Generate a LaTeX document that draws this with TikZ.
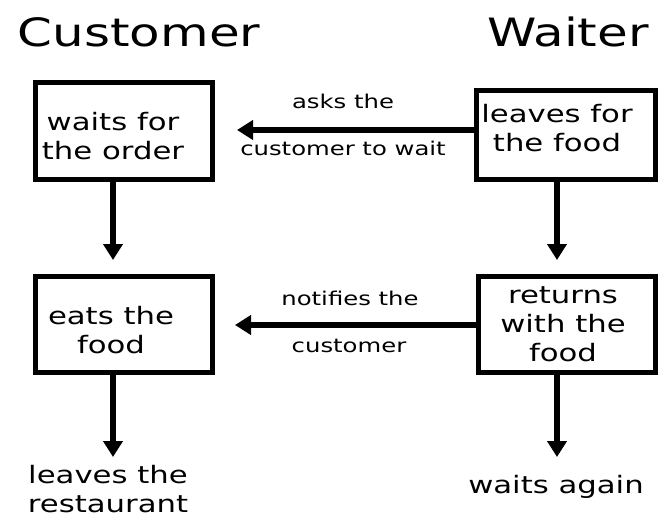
\documentclass[tikz,border=0pt]{standalone}
\usepackage{fontspec}
\setmainfont{DejaVu Sans}[FakeStretch=1.28]
\usepackage{tikz}
\usetikzlibrary{arrows.meta}

\tikzset{
  box/.style={draw, rectangle, line width=5pt, inner sep=0pt},
  boxtext/.style={font=\fontsize{24}{29}\selectfont, align=center, inner sep=0pt, anchor=north},
  heading/.style={font=\fontsize{39}{44}\selectfont, anchor=base},
  msg/.style={font=\fontsize{19}{22}\selectfont, anchor=base},
  flow/.style={line width=6pt, -{Triangle[length=16pt,width=19pt]}},
}

\begin{document}
\begin{tikzpicture}[x=1pt,y=1pt]
    \useasboundingbox (0,0) rectangle (659,-519);
    % the two columns
    \node[heading] (cust) at (139,-47) {Customer};
    \node[heading] (waiter) at (568,-47) {Waiter};
    % boxes
    \node[box, minimum width=177pt, minimum height=97pt] (wait) at (124,-131) {};
    \node[boxtext] (waitT) at (113,-112) {waits for\\the order};
    \node[box, minimum width=179pt, minimum height=89pt] (leave) at (566,-135) {};
    \node[boxtext] (leaveT) at (557,-104) {leaves for\\the food};
    \node[box, minimum width=177pt, minimum height=96pt] (eat) at (124,-324.5) {};
    \node[boxtext] (eatT) at (111,-306) {eats the\\food};
    \node[box, minimum width=177pt, minimum height=96pt] (ret) at (567,-324.5) {};
    \node[boxtext] (retT) at (563,-286) {returns\\with the\\food};
    % what happens at the end
    \node[boxtext] (exitT) at (108,-465) {leaves the\\restaurant};
    \node[boxtext] (againT) at (556,-475) {waits again};
    % waiter -> customer
    \coordinate (askTip) at (237,-130);
    \draw[flow] (leave.west |- askTip) -- (askTip);
    \node[msg] (ask1) at (343,-108) {asks the};
    \node[msg] (ask2) at (343,-155) {customer to wait};
    \coordinate (notifyTip) at (235,-325);
    \draw[flow] (ret.west |- notifyTip) -- (notifyTip);
    \node[msg] (notify1) at (350,-305) {notifies the};
    \node[msg] (notify2) at (349,-352) {customer};
    % down the columns
    \draw[flow, shorten >=14pt] (waitT |- wait.south) -- (waitT |- eat.north);
    \draw[flow, shorten >=8pt] (waitT |- eat.south) -- (waitT |- exitT.north);
    \draw[flow, shorten >=14pt] (leaveT |- leave.south) -- (leaveT |- ret.north);
    \draw[flow, shorten >=18pt] (leaveT |- ret.south) -- (leaveT |- againT.north);
\end{tikzpicture}
\end{document}
